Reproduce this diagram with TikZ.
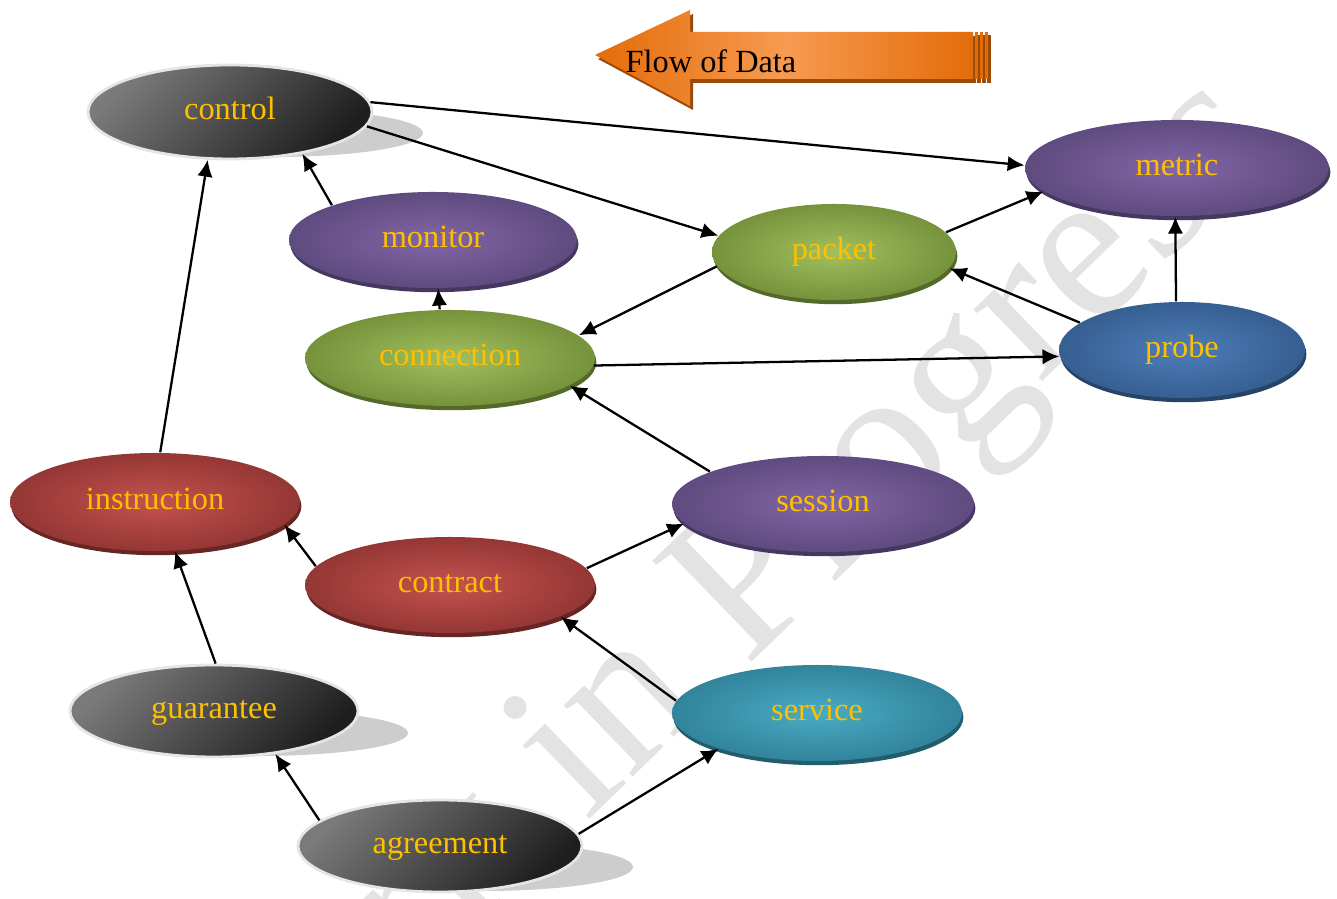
\documentclass[tikz,border=0pt]{standalone}
\usepackage{fontspec}
\setmainfont{Liberation Serif}
\usetikzlibrary{shapes.geometric,shadows,arrows.meta}

\definecolor{labelgold}{HTML}{FFC000}
\definecolor{graylight}{HTML}{7A7A7A}
\definecolor{graydark}{HTML}{1E1E1E}
\definecolor{castgray}{HTML}{CDCDCD}
\definecolor{purplelight}{HTML}{8266A6}
\definecolor{purplebase}{HTML}{5F4B7F}
\definecolor{purplerim}{HTML}{463760}
\definecolor{greenlight}{HTML}{A2C05E}
\definecolor{greenbase}{HTML}{76933C}
\definecolor{greenrim}{HTML}{546A2A}
\definecolor{redlight}{HTML}{C4524F}
\definecolor{redbase}{HTML}{943735}
\definecolor{redrim}{HTML}{672524}
\definecolor{bluelight}{HTML}{4D7DB8}
\definecolor{bluebase}{HTML}{365F91}
\definecolor{bluerim}{HTML}{264468}
\definecolor{teallight}{HTML}{4AABC5}
\definecolor{tealbase}{HTML}{31849B}
\definecolor{tealrim}{HTML}{215D6E}
\definecolor{flowedge}{HTML}{E36C0A}
\definecolor{flowmid}{HTML}{F79A50}
\definecolor{flowrim}{HTML}{9C4A08}

\tikzset{
  topic/.style={ellipse, minimum width=2.9cm, minimum height=0.96cm, inner sep=0pt,
    text=labelgold, font=\fontsize{9.2}{11}\selectfont, text height=0.72em, text depth=0.28em},
  rim/.style={drop shadow={shadow xshift=0.4pt, shadow yshift=-1.2pt, opacity=1, fill=#1}},
  graynode/.style={topic, draw=white!90!black, line width=0.8pt, top color=graylight,
    bottom color=graydark, shading angle=45},
  purplenode/.style={topic, inner color=purplelight, outer color=purplebase, rim=purplerim},
  greennode/.style={topic, inner color=greenlight, outer color=greenbase, rim=greenrim},
  rednode/.style={topic, inner color=redlight, outer color=redbase, rim=redrim},
  bluenode/.style={topic, inner color=bluelight, outer color=bluebase, rim=bluerim},
  tealnode/.style={topic, inner color=teallight, outer color=tealbase, rim=tealrim},
  flow/.style={-{Latex[length=4.8pt,width=4.4pt]}, line width=0.65pt},
}

\begin{document}
\begin{tikzpicture}
  \useasboundingbox (0, 0) rectangle (13.37, -8.99);
  \clip (0, 0) rectangle (13.37, -8.99);

  % watermark
  \node [rotate=44, text=black!11, font=\fontsize{61.5}{62}\selectfont] (watermark)
    at (7.08, -6.33){Work in Progress};

  % flow of data arrow
  \fill [flowrim] (5.98, -0.59)--(6.93, -0.14)--(6.93, -0.36)--(9.76, -0.36)
    --(9.76, -0.83)--(6.93, -0.83)--(6.93, -1.10)--cycle;
  \shade [left color=flowedge, right color=flowedge, middle color=flowmid]
    (5.95, -0.55)--(6.90, -0.10)--(6.90, -0.32)--(9.73, -0.32)
    --(9.73, -0.79)--(6.90, -0.79)--(6.90, -1.06)--cycle;
  \fill [flowrim] (9.77, -0.35) rectangle (9.81, -0.83);
  \fill [flowrim] (9.82, -0.35) rectangle (9.86, -0.83);
  \fill [flowrim] (9.87, -0.35) rectangle (9.91, -0.83);
  \fill [flowedge] (9.75, -0.32) rectangle (9.78, -0.79);
  \fill [flowedge] (9.80, -0.32) rectangle (9.83, -0.79);
  \fill [flowedge] (9.85, -0.32) rectangle (9.88, -0.79);
  \node [font=\fontsize{9.2}{11}\selectfont] (flowlabel) at (7.11, -0.61){Flow of Data};

  % cast shadows of the gray nodes
  \fill [castgray] (2.73, -1.33) ellipse (1.50 and 0.24);
  \fill [castgray] (2.58, -7.33) ellipse (1.50 and 0.23);
  \fill [castgray] (4.83, -8.67) ellipse (1.50 and 0.24);

  % nodes
  \node [graynode, minimum width=2.84cm, minimum height=0.94cm] (control) at (2.30, -1.12){control};
  \node [purplenode, minimum width=2.88cm] (monitor) at (4.33, -2.40){monitor};
  \node [greennode, minimum width=2.44cm] (packet) at (8.34, -2.52){packet};
  \node [purplenode, minimum width=3.04cm] (metric) at (11.77, -1.68){metric};
  \node [greennode] (connection) at (4.50, -3.58){connection};
  \node [bluenode, minimum width=2.46cm] (probe) at (11.82, -3.50){probe};
  \node [rednode, minimum height=0.98cm] (instruction) at (1.55, -5.02){instruction};
  \node [purplenode, minimum width=3.02cm] (session) at (8.23, -5.04){session};
  \node [rednode] (contract) at (4.50, -5.85){contract};
  \node [graynode, minimum width=2.88cm, minimum height=0.92cm] (guarantee) at (2.14, -7.11){guarantee};
  \node [tealnode] (service) at (8.17, -7.13){service};
  \node [graynode, minimum width=2.84cm, minimum height=0.92cm] (agreement) at (4.40, -8.46){agreement};

  % upper links
  \draw [flow] (monitor.161)--(control.-30);
  \draw [flow] (connection.102)--(monitor.-84);
  \draw [flow] (instruction.84)--(control.-115);
  \draw [flow] (control.-6)--(packet.172);
  \draw [flow] (control.4)--(metric.179);
  \draw [flow] (packet.10)--(metric.190);
  \draw [flow] (packet.187)--(connection.10);
  \draw [flow] (connection.-3)--(probe.183);
  \draw [flow] (probe.165)--(packet.-8);
  \draw [flow] (probe.97)--(metric.-92);

  % lower links
  \draw [flow] (session.164)--(connection.-13);
  \draw [flow] (contract.172)--(instruction.-10);
  \draw [flow] (contract.7)--(session.188);
  \draw [flow] (guarantee.88)--(instruction.-68);
  \draw [flow] (service.175)--(contract.-16);
  \draw [flow] (agreement.168)--(guarantee.-35);
  \draw [flow] (agreement.5)--(service.200);
\end{tikzpicture}
\end{document}
